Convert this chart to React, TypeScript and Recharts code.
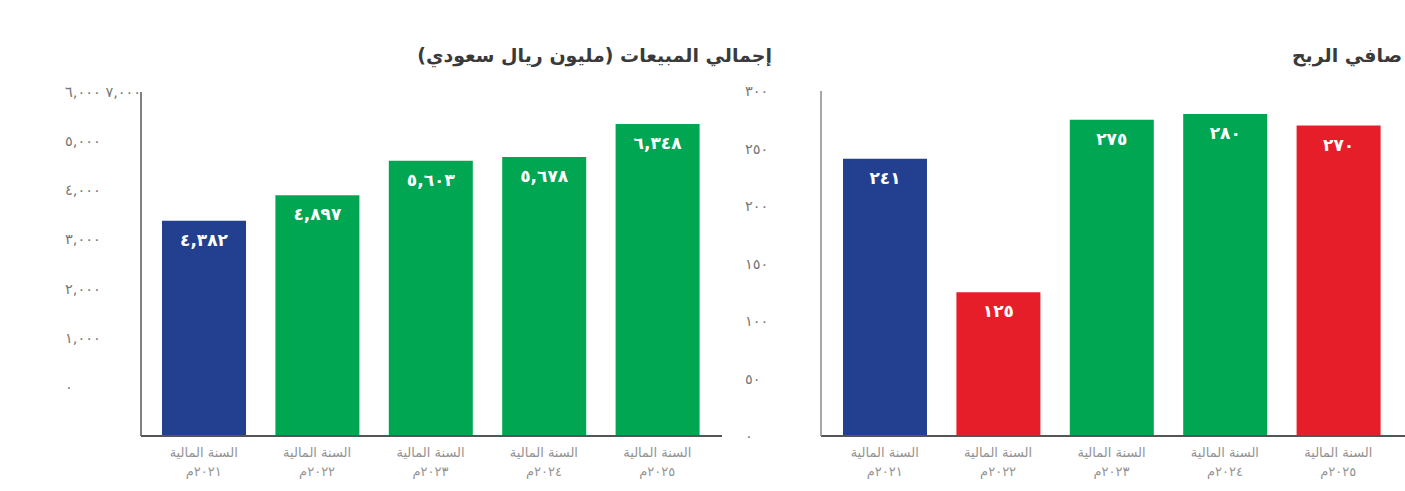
import { BarChart, Bar, XAxis, YAxis, Cell, LabelList } from 'recharts';

const BLUE = '#233f8f';
const GREEN = '#00a651';
const RED = '#e61e2a';
const FONT = '"DejaVu Sans", sans-serif';

const yearLabels = ['٢٠٢١م', '٢٠٢٢م', '٢٠٢٣م', '٢٠٢٤م', '٢٠٢٥م'];
const yearPrefix = 'السنة المالية';

const salesValues = [4382, 4897, 5603, 5678, 6348];
const salesColors = [BLUE, GREEN, GREEN, GREEN, GREEN];
const salesTicks = [0, 1000, 2000, 3000, 4000, 5000, 6000, 7000];
// labels as printed in the source, shifted by one step
const salesTickLabels = ['', '٠', '١,٠٠٠', '٢,٠٠٠', '٣,٠٠٠', '٤,٠٠٠', '٥,٠٠٠', '٦,٠٠٠\u200E ٧,٠٠٠'];

const profitValues = [241, 125, 275, 280, 270];
const profitColors = [BLUE, RED, GREEN, GREEN, RED];
const profitTicks = [0, 50, 100, 150, 200, 250, 300];
const profitTickLabels = ['٠', '٥٠', '١٠٠', '١٥٠', '٢٠٠', '٢٥٠', '٣٠٠'];

const salesTitle = 'إجمالي المبيعات (مليون ريال سعودي)';
const profitTitle = 'صافي الربح';

const toArabicDigits = (value: number) =>
  value
    .toLocaleString('en-US')
    .replace(/\d/g, (d) => '٠١٢٣٤٥٦٧٨٩'[Number(d)]);

const salesData = yearLabels.map((year, i) => ({ year, value: salesValues[i] }));
const profitData = yearLabels.map((year, i) => ({ year, value: profitValues[i] }));

const YearTick = (props: { x?: number; y?: number; payload?: { value: string } }) => {
  const { x = 0, y = 0, payload } = props;
  return (
    <g transform={`translate(${x},${y})`}>
      <text x={0} y={13} textAnchor="middle" fill="#939393" fontSize={13} fontFamily={FONT}>
        {yearPrefix}
      </text>
      <text x={0} y={32} textAnchor="middle" fill="#939393" fontSize={13} fontFamily={FONT}>
        {payload?.value}
      </text>
    </g>
  );
};

const makeValueTick = (ticks: number[], labels: string[]) => {
  return (props: { x?: number; y?: number; payload?: { value: number } }) => {
    const { x = 0, y = 0, payload } = props;
    const idx = ticks.indexOf(payload?.value ?? -1);
    return (
      <text x={x - 76} y={y} dy={5} textAnchor="start" fill="#777" fontSize={14.5} fontFamily={FONT}>
        {idx >= 0 ? labels[idx] : ''}
      </text>
    );
  };
};

const SalesTick = makeValueTick(salesTicks, salesTickLabels);
const ProfitTick = makeValueTick(profitTicks, profitTickLabels);

const titleStyle = {
  position: 'absolute' as const,
  top: 44,
  direction: 'rtl' as const,
  fontFamily: FONT,
  fontWeight: 700,
  fontSize: 19,
  color: '#3a3a3a',
  whiteSpace: 'nowrap' as const,
};

export default function App() {
  return (
    <div style={{ position: 'absolute', left: 0, top: 0, width: 1405, height: 491, background: '#fff' }}>
      <div style={{ ...titleStyle, right: 1405 - 772 }}>{salesTitle}</div>
      <div style={{ ...titleStyle, right: 3 }}>{profitTitle}</div>

      <div style={{ position: 'absolute', left: 0, top: 0 }}>
        <BarChart
          width={740}
          height={491}
          data={salesData}
          margin={{ top: 92, right: 18, left: 65, bottom: 5 }}
        >
          <XAxis
            dataKey="year"
            height={50}
            tickLine={false}
            axisLine={{ stroke: '#555', strokeWidth: 2 }}
            tick={<YearTick />}
            padding={{ left: 6, right: 8 }}
            interval={0}
          />
          <YAxis
            width={76}
            domain={[0, 7000]}
            ticks={salesTicks}
            tickLine={false}
            tickSize={0}
            tickMargin={0}
            axisLine={{ stroke: '#555', strokeWidth: 1.5 }}
            tick={<SalesTick />}
            interval={0}
          />
          <Bar dataKey="value" barSize={84} isAnimationActive={false}>
            {salesData.map((_, i) => (
              <Cell key={i} fill={salesColors[i]} />
            ))}
            <LabelList
              dataKey="value"
              position="insideTop"
              offset={13}
              fill="#fff"
              fontSize={17}
              fontWeight={700}
              fontFamily={FONT}
              formatter={(v: number) => toArabicDigits(v)}
            />
          </Bar>
        </BarChart>
      </div>

      <div style={{ position: 'absolute', left: 680, top: 0 }}>
        <BarChart
          width={725}
          height={491}
          data={profitData}
          margin={{ top: 91, right: 0, left: 65, bottom: 5 }}
        >
          <XAxis
            dataKey="year"
            height={50}
            tickLine={false}
            axisLine={{ stroke: '#555', strokeWidth: 2 }}
            tick={<YearTick />}
            padding={{ left: 7, right: 10 }}
            interval={0}
          />
          <YAxis
            width={76}
            domain={[0, 300]}
            ticks={profitTicks}
            tickLine={false}
            tickSize={0}
            tickMargin={0}
            axisLine={{ stroke: '#8a8a8a', strokeWidth: 1.5 }}
            tick={<ProfitTick />}
            interval={0}
          />
          <Bar dataKey="value" barSize={84} isAnimationActive={false}>
            {profitData.map((_, i) => (
              <Cell key={i} fill={profitColors[i]} />
            ))}
            <LabelList
              dataKey="value"
              position="insideTop"
              offset={13}
              fill="#fff"
              fontSize={17}
              fontWeight={700}
              fontFamily={FONT}
              formatter={(v: number) => toArabicDigits(v)}
            />
          </Bar>
        </BarChart>
      </div>
    </div>
  );
}
